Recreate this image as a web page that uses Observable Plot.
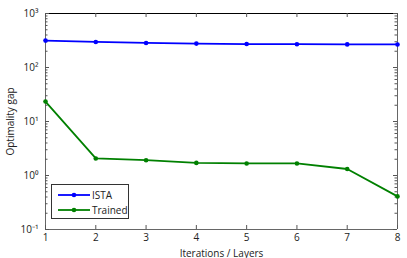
<!DOCTYPE html>
<html>
<head>
<meta charset="utf-8">
<script src="https://cdn.jsdelivr.net/npm/d3@7"></script>
<script src="https://cdn.jsdelivr.net/npm/@observablehq/plot@0.6"></script>
<style>
  body { margin: 0; background: #fff; }
  #wrap { position: relative; width: 407px; height: 258px; font-family: "Open Sans", sans-serif; }
  #legend { position: absolute; left: 51px; top: 184px; width: 78px; height: 35px; border: 1px solid #333; background: #fff; font-size: 10px; box-sizing: border-box; color: #222; }
  .li { position: absolute; left: 6px; height: 12px; display: flex; align-items: center; }
  .li svg { margin-right: 2px; }
</style>
</head>
<body>
<div id="wrap"></div>
<script>
const iterations = [1, 2, 3, 4, 5, 6, 7, 8];
const ista = [315, 297, 285, 277, 272, 270, 268, 267];
const trained = [23.4, 2.07, 1.92, 1.71, 1.67, 1.67, 1.32, 0.41];
const seriesNames = ["ISTA", "Trained"];
const seriesColors = ["#0000ff", "#008000"];
const yMajor = [0.1, 1, 10, 100, 1000];
const yMajorLabels = ["10⁻¹", "10⁰", "10¹", "10²", "10³"];
const xTicks = [1, 2, 3, 4, 5, 6, 7, 8];

const W = 407, H = 258, mL = 45, mR = 10, mT = 13, mB = 29;
const pw = W - mL - mR, ph = H - mT - mB;

const yMinor = [];
for (let e = -1; e < 3; e++) for (let k = 2; k <= 9; k++) yMinor.push(k * Math.pow(10, e));

const rows = [];
iterations.forEach((it, i) => {
  rows.push({it, v: ista[i], s: seriesNames[0]});
  rows.push({it, v: trained[i], s: seriesNames[1]});
});

const tickCol = "#555";
const plot = Plot.plot({
  width: W, height: H,
  marginLeft: mL, marginRight: mR, marginTop: mT, marginBottom: mB,
  style: {fontFamily: "Open Sans, sans-serif", fontSize: "10px", color: "#222", background: "white"},
  x: {domain: [1, 8]},
  y: {type: "log", domain: [0.1, 1000]},
  color: {domain: seriesNames, range: seriesColors},
  marks: [
    Plot.ruleY([1000], {stroke: "#000", strokeWidth: 1}),
    Plot.ruleY([0.1], {stroke: "#666", strokeWidth: 1}),
    Plot.ruleX([1], {stroke: "#666", strokeWidth: 1}),
    Plot.ruleX([8], {stroke: "#666", strokeWidth: 1}),
    Plot.ruleY(yMajor, {stroke: tickCol, insetRight: pw - 4}),
    Plot.ruleY(yMajor, {stroke: tickCol, insetLeft: pw - 4}),
    Plot.ruleY(yMinor, {stroke: tickCol, insetRight: pw - 2.5}),
    Plot.ruleY(yMinor, {stroke: tickCol, insetLeft: pw - 2.5}),
    Plot.ruleX(xTicks, {stroke: tickCol, insetTop: ph - 4}),
    Plot.ruleX(xTicks, {stroke: tickCol, insetBottom: ph - 4}),
    Plot.axisY({anchor: "left", ticks: yMajor, tickSize: 0, tickPadding: 7,
      tickFormat: (d) => yMajorLabels[yMajor.indexOf(d)],
      label: "Optimality gap", labelAnchor: "center", labelArrow: "none", labelOffset: 39}),
    Plot.axisX({anchor: "bottom", ticks: xTicks, tickSize: 0, tickPadding: 4, tickFormat: d3.format("d"),
      label: "Iterations / Layers", labelAnchor: "center", labelArrow: "none", labelOffset: 27}),
    Plot.line(rows, {x: "it", y: "v", z: "s", stroke: "s", strokeWidth: 1.8}),
    Plot.dot(rows, {x: "it", y: "v", fill: "s", r: 2.3})
  ]
});

const wrap = document.getElementById("wrap");
wrap.appendChild(plot);

const leg = document.createElement("div");
leg.id = "legend";
seriesNames.forEach((n, i) => {
  const d = document.createElement("div");
  d.className = "li";
  d.style.top = (4 + i * 15) + "px";
  d.innerHTML = `<svg width="32" height="6"><line x1="0" y1="3" x2="32" y2="3" stroke="${seriesColors[i]}" stroke-width="1.8"/><circle cx="16" cy="3" r="2.3" fill="${seriesColors[i]}"/></svg><span>${n}</span>`;
  leg.appendChild(d);
});
wrap.appendChild(leg);
</script>
</body>
</html>
